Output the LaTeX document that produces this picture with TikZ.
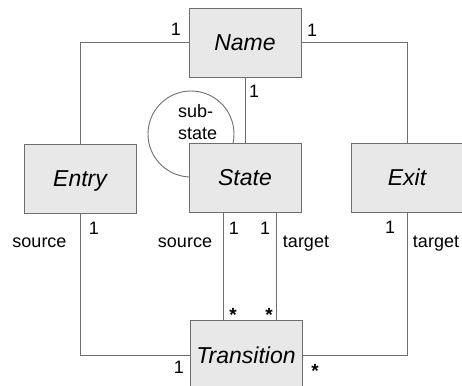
\documentclass[tikz,border=0pt]{standalone}
\usepackage{fontspec}
\setmainfont{Liberation Sans}
\definecolor{boxfill}{HTML}{E8E8E8}
\definecolor{edge}{HTML}{6E6E6E}
\begin{document}
\begin{tikzpicture}[x=1pt,y=-1pt,
  classbox/.style={draw=edge, fill=boxfill, line width=0.9pt,
    minimum width=112pt, minimum height=69pt, inner sep=0pt,
    text height=16.5pt, text depth=0pt,
    font=\fontsize{23}{27}\selectfont\itshape},
  assoc/.style={draw=edge, line width=0.9pt},
  lbl/.style={anchor=base, inner sep=0pt, font=\fontsize{18}{22}\selectfont},
  many/.style={lbl, font=\fontsize{19}{22}\selectfont\bfseries}]
\useasboundingbox (0,0) rectangle (462,385);

% self-association loop of State (drawn first, box covers the inner part)
\node (loop) [circle, draw=edge, line width=0.9pt, minimum size=86pt, inner sep=0pt] at (191,134) {};
\node[lbl, anchor=base west] (subA) at (178,117) {sub-};
\node[lbl, anchor=base west] (subB) at (178,139) {state};

% classes
\node[classbox] (name) at (245,42.5) {Name};
\node[classbox] (entry) at (80,178.5) {Entry};
\node[classbox] (state) at (245,177.5) {State};
\node[classbox] (exit) at (407,177.5) {Exit};
\node[classbox] (trans) at (246,355) {Transition};

% associations
\coordinate (srcx) at (223.5,0);
\coordinate (tgtx) at (276.5,0);
\draw[assoc] (name.west) -| (entry.north);
\draw[assoc] (name.east) -| (exit.north);
\draw[assoc] (name.south) -- (state.north);
\draw[assoc] (state.south -| srcx) -- (trans.north -| srcx);
\draw[assoc] (state.south -| tgtx) -- (trans.north -| tgtx);
\draw[assoc] (entry.south) |- (trans.west);
\draw[assoc] (exit.south) |- (trans.east);

% multiplicities and role names
\node[lbl] (m1) at (176,35.5) {1};
\node[lbl] (m2) at (312,36.5) {1};
\node[lbl] (m3) at (254,97) {1};
\node[lbl] (m4) at (94,234) {1};
\node[lbl] (r1) at (39.5,247) {source};
\node[lbl] (r2) at (185,247) {source};
\node[lbl] (m5) at (234,234) {1};
\node[lbl] (m6) at (265,234) {1};
\node[lbl] (r3) at (306,247) {target};
\node[lbl] (m7) at (390,233) {1};
\node[lbl] (r4) at (436,247) {target};
\node[many] (s1) at (233,321) {*};
\node[many] (s2) at (269,321) {*};
\node[many] (s3) at (315,377) {*};
\node[lbl] (m8) at (179,373) {1};
\end{tikzpicture}
\end{document}
